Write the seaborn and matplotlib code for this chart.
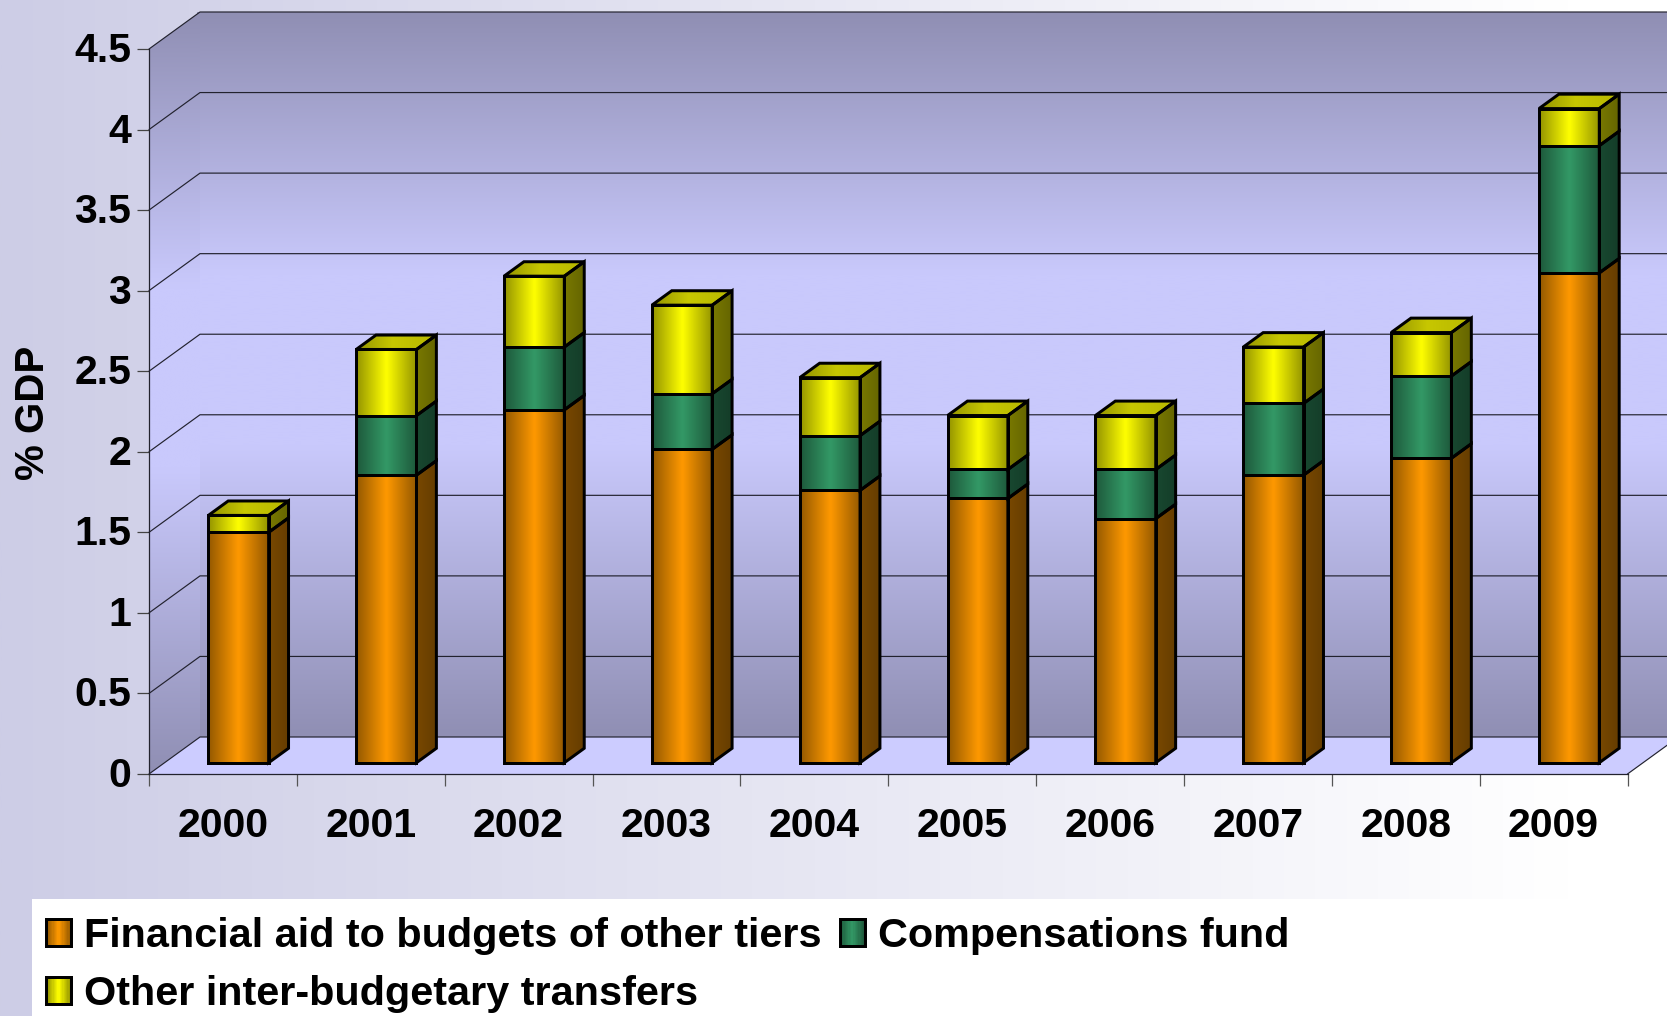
import numpy as np
import pandas as pd
import matplotlib
matplotlib.use("Agg")
import matplotlib.pyplot as plt
import matplotlib.colors as mcolors
from matplotlib.legend_handler import HandlerBase
from matplotlib.patches import Patch, Polygon, Rectangle
from matplotlib.transforms import Affine2D
import seaborn as sns

# Inter-budgetary transfers, % of GDP
years = ["2000", "2001", "2002", "2003", "2004", "2005", "2006", "2007", "2008", "2009"]
financial_aid = [1.43, 1.785, 2.19, 1.945, 1.69, 1.64, 1.515, 1.785, 1.89, 3.04]
compensations = [0.0, 0.37, 0.39, 0.345, 0.34, 0.18, 0.305, 0.445, 0.51, 0.79]
other_transfers = [0.105, 0.41, 0.44, 0.55, 0.36, 0.335, 0.335, 0.35, 0.27, 0.23]
series_names = ["Financial aid to budgets of other tiers", "Compensations fund",
                "Other inter-budgetary transfers"]
y_ticks = [0, 0.5, 1, 1.5, 2, 2.5, 3, 3.5, 4, 4.5]
y_tick_labels = ["0", "0.5", "1", "1.5", "2", "2.5", "3", "3.5", "4", "4.5"]

ORANGE, GREEN, YELLOW = "#ff9900", "#339966", "#ffff00"

sns.set_theme(style="white")
plt.rcParams["font.family"] = ["Liberation Sans", "DejaVu Sans"]
plt.rcParams["font.weight"] = "bold"

W, H, DPI = 1667, 1016, 100
fig = plt.figure(figsize=(W / DPI, H / DPI), dpi=DPI, facecolor="white")

# Page background: lavender fading to white, with a white strip behind the legend
bg = fig.add_axes([0, 0, 1, 1], zorder=0)
bg.set_axis_off()
ramp = np.interp(np.linspace(0, 1, 512), [0, 0.94, 1], [0, 1, 1])
c0, c1 = np.array([205, 205, 230]) / 255, np.array([1.0, 1.0, 1.0])
bg_img = (c0[None, :] * (1 - ramp[:, None]) + c1[None, :] * ramp[:, None])[None, :, :]
bg.imshow(bg_img, extent=(0, W, H, 0), aspect="auto", interpolation="bilinear")
bg.add_patch(Rectangle((32, 899), W - 32, H - 899, facecolor="white", edgecolor="none"))
bg.set_xlim(0, W)
bg.set_ylim(H, 0)

# The axes box is the front plane of the 3D chart
left_px, right_px, y0_px, y45_px = 149.0, 1627.5, 774.0, 49.0
ax = fig.add_axes([left_px / W, 1 - y0_px / H, (right_px - left_px) / W, (y0_px - y45_px) / H],
                  zorder=1)
ax.patch.set_alpha(0)

BAR_WIDTH = 0.408
EDGE_LW = 2.15
# Full depth of the chart box in data units
DX = 51 / ((right_px - left_px) / len(years))
DY = 37 / ((y0_px - y45_px) / 4.5)
BAR_NEAR, BAR_FAR = 0.305, 0.695


def project(x, v, d):
    return x + d * DX, v + d * DY


def shade(base, factor):
    return np.clip(np.array(mcolors.to_rgb(base)) * factor, 0, 1)


def shaded_poly(verts, colors_along, horizontal, zorder, edge=None, lw=0.0):
    """Fill a polygon with a colour ramp and optionally stroke its outline."""
    verts = np.asarray(verts)
    x0, x1 = verts[:, 0].min(), verts[:, 0].max()
    y0, y1 = verts[:, 1].min(), verts[:, 1].max()
    rgb = np.asarray(colors_along)
    img = rgb[None, :, :] if horizontal else rgb[:, None, :]
    clip = Polygon(verts, closed=True, transform=ax.transData, facecolor="none", edgecolor="none")
    ax.add_patch(clip)
    clip.set_clip_on(False)
    im = ax.imshow(img, extent=(x0, x1, y0, y1), origin="upper", aspect="auto",
                   interpolation="bilinear", zorder=zorder)
    im.set_clip_box(fig.bbox)
    im.set_clip_path(clip)
    if edge is not None:
        ax.add_patch(Polygon(verts, closed=True, facecolor="none", edgecolor=edge, linewidth=lw,
                             joinstyle="miter", clip_on=False, zorder=zorder + 0.1))


def bar_ramp(base, n=48):
    t = np.linspace(0, 1, n)
    factor = np.interp(t, [0, 0.5, 1], [0.58, 1.0, 0.58])
    return np.array([shade(base, f) for f in factor])


# Stacked front faces come from seaborn, one call per series
frame = pd.DataFrame({"year": years, "aid": financial_aid, "comp": compensations, "other": other_transfers})
stack_bottom = np.zeros(len(years))
bars_by_series = []
for column, colour in zip(["aid", "comp", "other"], [ORANGE, GREEN, YELLOW]):
    before = len(ax.patches)
    sns.barplot(data=frame, x="year", y=column, color=colour, saturation=1, width=BAR_WIDTH,
                errorbar=None, bottom=stack_bottom, ax=ax, order=years,
                edgecolor="black", linewidth=EDGE_LW, zorder=10)
    bars_by_series.append((colour, list(ax.patches[before:])))
    stack_bottom = stack_bottom + frame[column].to_numpy()

ax.set_xlim(-0.5, len(years) - 0.5)
ax.set_ylim(0, 4.5)
ax.set_autoscale_on(False)

# Walls and floor of the chart box
last = len(years) - 0.5
wall_t = np.linspace(0, 1, 128)
wall_f = np.interp(wall_t, [0, 0.36, 0.6, 1], [0, 1, 1, 0])
wall_dark, wall_light = np.array(mcolors.to_rgb("#908fb4")), np.array(mcolors.to_rgb("#c9c9fc"))
wall_rgb = wall_dark[None, :] * (1 - wall_f[:, None]) + wall_light[None, :] * wall_f[:, None]

# The back wall runs slightly under the side wall so that no seam shows between them
back = [project(-0.52, 0, 1), project(last, 0, 1), project(last, 4.5, 1), project(-0.52, 4.5, 1)]
shaded_poly(back, wall_rgb, False, 1)
side = [project(-0.5, 0, 0), project(-0.5, 0, 1), project(-0.5, 4.5, 1), project(-0.5, 4.5, 0)]
shaded_poly(side, wall_rgb, False, 1.1)
ax.add_patch(Polygon([project(-0.5, 0, 0), project(last, 0, 0), project(last, 0, 1), project(-0.5, 0, 1)],
                     closed=True, facecolor="#ccccff", edgecolor="none", clip_on=False, zorder=2))

# Gridlines run along the side wall and then across the back wall
for v in y_ticks:
    pts = np.array([project(-0.5, v, 0), project(-0.5, v, 1), project(last, v, 1)])
    ax.plot(pts[:, 0], pts[:, 1], color="#22222e", lw=0.85, clip_on=False, zorder=3)
pts = np.array([project(last, 0, 0), project(last, 0, 1)])
ax.plot(pts[:, 0], pts[:, 1], color="#22222e", lw=0.85, clip_on=False, zorder=3)

# Move the faces into the middle of the box and extrude the side and top of every segment
for s_idx, (colour, bars) in enumerate(bars_by_series):
    is_top = s_idx == len(bars_by_series) - 1
    for b_idx, p in enumerate(bars):
        x_left, v_low = project(p.get_x(), p.get_y(), BAR_NEAR)
        wid, hgt = p.get_width(), p.get_height()
        p.set_x(x_left)
        p.set_y(v_low)
        p.set_joinstyle("miter")
        p.set_clip_on(False)
        z = 10 + b_idx + s_idx * 0.01
        p.set_facecolor("none")
        p.set_zorder(z + 0.2)
        if hgt <= 0:
            p.set_visible(False)
            continue
        x_right = x_left + wid
        v_high = v_low + hgt
        ddx = (BAR_FAR - BAR_NEAR) * DX
        ddy = (BAR_FAR - BAR_NEAR) * DY
        shaded_poly([(x_left, v_low), (x_right, v_low), (x_right, v_high), (x_left, v_high)],
                    bar_ramp(colour), True, z)
        side_ramp = np.array([shade(colour, f) for f in np.linspace(0.47, 0.40, 16)])
        shaded_poly([(x_right, v_low), (x_right + ddx, v_low + ddy),
                     (x_right + ddx, v_high + ddy), (x_right, v_high)],
                    side_ramp, True, z, edge="black", lw=EDGE_LW)
        if is_top:
            top_ramp = np.array([shade(colour, f) for f in
                                 np.interp(np.linspace(0, 1, 32), [0, 0.45, 1], [0.58, 0.78, 0.72])])
            shaded_poly([(x_left, v_high), (x_right, v_high),
                         (x_right + ddx, v_high + ddy), (x_left + ddx, v_high + ddy)],
                        top_ramp, True, z, edge="black", lw=EDGE_LW)

# Axes, ticks and labels
for name in ("top", "right"):
    ax.spines[name].set_visible(False)
for name in ("left", "bottom"):
    ax.spines[name].set_color("#22222e")
    ax.spines[name].set_linewidth(0.9)
    ax.spines[name].set_zorder(4)

ax.set_yticks(y_ticks, y_tick_labels)
ax.tick_params(axis="y", length=8.5, width=0.9, color="#444444", pad=5, labelsize=29.5, left=True)
ax.set_xticks(np.arange(len(years) + 1) - 0.5, [""] * (len(years) + 1))
ax.tick_params(axis="x", which="major", length=8.5, width=0.9, color="#555555", bottom=True)
ax.set_xticks(np.arange(len(years)), years, minor=True)
ax.tick_params(axis="x", which="minor", length=0, pad=23.8, labelsize=29.5)
for label in ax.get_xticklabels(minor=True) + ax.get_yticklabels():
    label.set_fontweight("bold")
    label.set_color("black")
for label in ax.get_yticklabels():
    label.set_transform(label.get_transform() + Affine2D().translate(1, 2))
ax.set_xlabel("")
ax.set_ylabel("")
fig.text(33.5 / W, 1 - 413 / H, "% GDP", rotation=90, ha="center", va="center",
         fontsize=29, fontweight="bold", color="black")


class ShadedSwatch(HandlerBase):
    """Legend key with the same horizontal sheen as the bars."""

    def create_artists(self, legend, orig_handle, xdescent, ydescent, width, height, fontsize, trans):
        ramp_rgb = bar_ramp(orig_handle.get_facecolor()[:3], 20)
        artists = []
        band = width / len(ramp_rgb)
        for i, rgb in enumerate(ramp_rgb):
            artists.append(Rectangle((-xdescent + i * band, -ydescent), band * 1.05, height,
                                     facecolor=rgb, edgecolor="none", transform=trans))
        artists.append(Rectangle((-xdescent, -ydescent), width, height, facecolor="none",
                                 edgecolor="black", linewidth=EDGE_LW, transform=trans))
        return artists


legend_size = 29.8
size_px = legend_size * DPI / 72
handles = [Patch(facecolor=c, label=n) for c, n in zip([ORANGE, GREEN, YELLOW], series_names)]
swatch = ShadedSwatch()
legend = fig.legend(handles=[handles[0], handles[2], handles[1]],
                    labels=[series_names[0], series_names[2], series_names[1]],
                    handler_map={h: swatch for h in handles},
                    ncol=2, loc="upper left", bbox_to_anchor=(46 / W, 1 - 917 / H),
                    frameon=False, fontsize=legend_size, borderpad=0, borderaxespad=0,
                    handlelength=25 / size_px, handleheight=25 / size_px,
                    handletextpad=13 / size_px, columnspacing=18 / size_px, labelspacing=0.49,
                    prop={"family": "Liberation Sans", "weight": "bold", "size": legend_size})
for text in legend.get_texts():
    text.set_color("black")

fig.savefig("out.png", dpi=DPI)
